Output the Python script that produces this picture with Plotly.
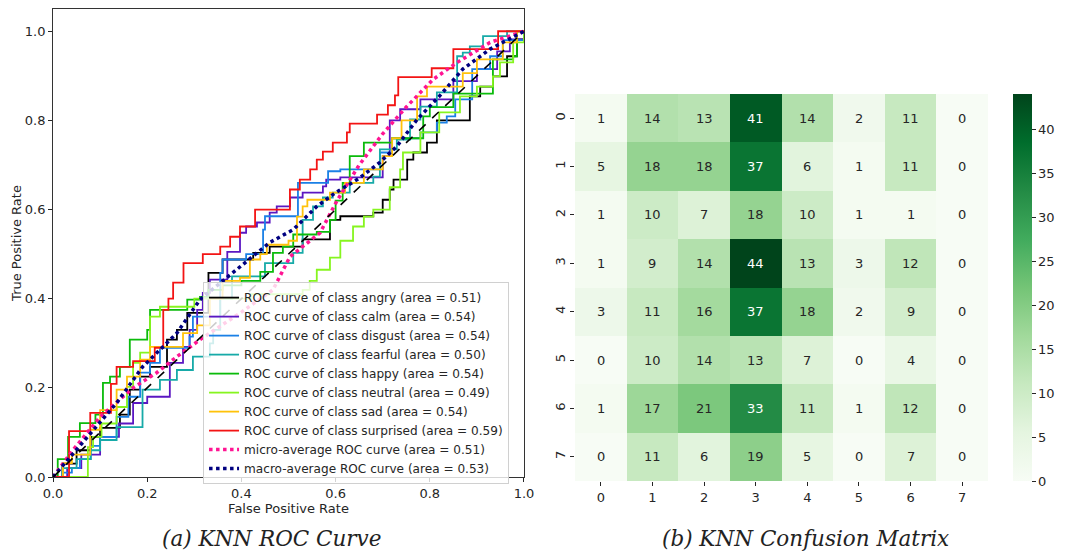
import plotly.graph_objects as go

# ---------------- ROC data ----------------
class_names = ["angry", "calm", "disgust", "fearful", "happy", "neutral", "sad", "surprised"]
class_auc = [0.51, 0.54, 0.54, 0.50, 0.54, 0.49, 0.54, 0.59]

fpr_angry = [0, 0.02, 0.05, 0.08, 0.10, 0.142, 0.163, 0.185, 0.206, 0.242, 0.263, 0.285, 0.33, 0.36, 0.425, 0.46, 0.53, 0.588, 0.61, 0.68, 0.70, 0.715, 0.723, 0.752, 0.765, 0.794, 0.815, 0.885, 0.907, 0.934, 0.964, 0.985, 1.0]
tpr_angry = [0, 0.03, 0.06, 0.09, 0.11, 0.14, 0.196, 0.225, 0.247, 0.308, 0.33, 0.368, 0.458, 0.488, 0.503, 0.517, 0.533, 0.577, 0.585, 0.593, 0.622, 0.645, 0.667, 0.712, 0.728, 0.75, 0.80, 0.854, 0.876, 0.899, 0.944, 0.982, 1.0]

fpr_calm = [0, 0.03, 0.06, 0.10, 0.14, 0.17, 0.2, 0.248, 0.276, 0.29, 0.306, 0.318, 0.333, 0.37, 0.397, 0.41, 0.433, 0.46, 0.475, 0.503, 0.53, 0.573, 0.58, 0.61, 0.70, 0.715, 0.737, 0.78, 0.85, 0.9, 0.943, 0.97, 1.0]
tpr_calm = [0, 0.02, 0.05, 0.09, 0.12, 0.166, 0.18, 0.256, 0.292, 0.33, 0.375, 0.413, 0.443, 0.505, 0.548, 0.562, 0.571, 0.593, 0.607, 0.627, 0.638, 0.652, 0.667, 0.672, 0.72, 0.80, 0.825, 0.847, 0.888, 0.915, 0.955, 0.982, 1.0]

fpr_disgust = [0, 0.02, 0.04, 0.057, 0.08, 0.1, 0.135, 0.16, 0.185, 0.206, 0.227, 0.29, 0.297, 0.355, 0.36, 0.41, 0.446, 0.45, 0.51, 0.52, 0.584, 0.61, 0.68, 0.694, 0.72, 0.78, 0.815, 0.836, 0.854, 0.89, 0.928, 0.955, 1.0]
tpr_disgust = [0, 0.01, 0.02, 0.04, 0.07, 0.09, 0.135, 0.18, 0.234, 0.256, 0.29, 0.315, 0.36, 0.458, 0.488, 0.50, 0.555, 0.585, 0.585, 0.66, 0.686, 0.69, 0.69, 0.728, 0.76, 0.773, 0.795, 0.809, 0.847, 0.915, 0.944, 0.98, 1.0]

fpr_fearful = [0, 0.02, 0.05, 0.08, 0.1, 0.135, 0.19, 0.227, 0.263, 0.297, 0.333, 0.34, 0.355, 0.38, 0.45, 0.51, 0.53, 0.552, 0.573, 0.594, 0.63, 0.68, 0.694, 0.73, 0.758, 0.78, 0.815, 0.858, 0.87, 0.885, 0.913, 0.964, 1.0]
tpr_fearful = [0, 0.02, 0.04, 0.06, 0.083, 0.112, 0.196, 0.218, 0.24, 0.27, 0.30, 0.33, 0.40, 0.45, 0.48, 0.503, 0.577, 0.607, 0.627, 0.638, 0.66, 0.674, 0.735, 0.757, 0.802, 0.831, 0.863, 0.944, 0.952, 0.966, 0.989, 1.0, 1.0]

fpr_happy = [0, 0.01, 0.032, 0.057, 0.09, 0.106, 0.121, 0.142, 0.163, 0.2, 0.206, 0.242, 0.285, 0.312, 0.33, 0.36, 0.40, 0.44, 0.467, 0.488, 0.51, 0.56, 0.588, 0.60, 0.615, 0.63, 0.66, 0.694, 0.72, 0.786, 0.80, 0.85, 0.934, 0.977, 0.985, 1.0]
tpr_happy = [0, 0.04, 0.09, 0.121, 0.14, 0.211, 0.225, 0.247, 0.308, 0.33, 0.375, 0.375, 0.398, 0.404, 0.42, 0.43, 0.44, 0.46, 0.503, 0.517, 0.544, 0.55, 0.577, 0.62, 0.66, 0.72, 0.75, 0.75, 0.76, 0.809, 0.83, 0.86, 0.937, 0.944, 1.0, 1.0]

fpr_neutral = [0, 0.074, 0.085, 0.103, 0.135, 0.157, 0.17, 0.185, 0.206, 0.227, 0.3, 0.42, 0.53, 0.545, 0.56, 0.588, 0.61, 0.637, 0.66, 0.68, 0.715, 0.737, 0.743, 0.78, 0.82, 0.864, 0.9, 0.934, 0.949, 0.977, 1.0]
tpr_neutral = [0, 0.067, 0.09, 0.12, 0.157, 0.202, 0.256, 0.279, 0.36, 0.382, 0.40, 0.41, 0.42, 0.44, 0.465, 0.492, 0.53, 0.562, 0.584, 0.60, 0.65, 0.69, 0.728, 0.773, 0.818, 0.854, 0.876, 0.899, 0.93, 0.975, 1.0]

fpr_sad = [0, 0.021, 0.04, 0.079, 0.1, 0.135, 0.157, 0.185, 0.206, 0.263, 0.276, 0.306, 0.333, 0.36, 0.397, 0.418, 0.44, 0.454, 0.50, 0.518, 0.53, 0.54, 0.588, 0.62, 0.66, 0.70, 0.72, 0.74, 0.773, 0.794, 0.85, 0.87, 0.9, 0.955, 0.985, 1.0]
tpr_sad = [0, 0.031, 0.05, 0.106, 0.15, 0.196, 0.225, 0.263, 0.292, 0.292, 0.323, 0.34, 0.40, 0.44, 0.447, 0.488, 0.50, 0.521, 0.53, 0.584, 0.607, 0.622, 0.638, 0.66, 0.69, 0.72, 0.76, 0.80, 0.854, 0.876, 0.876, 0.906, 0.937, 0.975, 1.0, 1.0]

fpr_surprised = [0, 0.034, 0.079, 0.123, 0.135, 0.17, 0.216, 0.234, 0.245, 0.255, 0.277, 0.318, 0.355, 0.376, 0.397, 0.429, 0.46, 0.503, 0.524, 0.546, 0.56, 0.573, 0.594, 0.624, 0.63, 0.688, 0.711, 0.726, 0.733, 0.804, 0.85, 0.945, 1.0]
tpr_surprised = [0, 0.103, 0.144, 0.209, 0.247, 0.26, 0.29, 0.375, 0.40, 0.436, 0.48, 0.50, 0.517, 0.539, 0.562, 0.60, 0.60, 0.645, 0.667, 0.69, 0.712, 0.73, 0.75, 0.773, 0.793, 0.813, 0.834, 0.856, 0.897, 0.917, 0.96, 1.0, 1.0]

fpr_micro = [0, 0.042, 0.1, 0.17, 0.22, 0.263, 0.312, 0.40, 0.467, 0.503, 0.567, 0.603, 0.65, 0.70, 0.75, 0.807, 0.858, 0.928, 1.0]
tpr_micro = [0, 0.06, 0.135, 0.2, 0.234, 0.27, 0.308, 0.37, 0.42, 0.494, 0.548, 0.62, 0.70, 0.77, 0.83, 0.892, 0.93, 0.975, 1.0]
auc_micro = 0.51

fpr_macro = [0, 0.04, 0.085, 0.135, 0.19, 0.233, 0.263, 0.312, 0.39, 0.46, 0.51, 0.56, 0.6, 0.65, 0.694, 0.73, 0.773, 0.82, 0.87, 0.928, 1.0]
tpr_macro = [0, 0.05, 0.106, 0.166, 0.247, 0.292, 0.323, 0.398, 0.465, 0.526, 0.555, 0.607, 0.638, 0.67, 0.706, 0.742, 0.802, 0.854, 0.915, 0.96, 1.0]
auc_macro = 0.53

chance_x = [0, 1]
chance_y = [0, 1]

# ---------------- Confusion matrix ----------------
cm_labels = [0, 1, 2, 3, 4, 5, 6, 7]
cm_values = [
    [1, 14, 13, 41, 14, 2, 11, 0],
    [5, 18, 18, 37, 6, 1, 11, 0],
    [1, 10, 7, 18, 10, 1, 1, 0],
    [1, 9, 14, 44, 13, 3, 12, 0],
    [3, 11, 16, 37, 18, 2, 9, 0],
    [0, 10, 14, 13, 7, 0, 4, 0],
    [1, 17, 21, 33, 11, 1, 12, 0],
    [0, 11, 6, 19, 5, 0, 7, 0],
]
cbar_ticks = [0, 5, 10, 15, 20, 25, 30, 35, 40]

# ---------------- Styles ----------------
class_colors = ["#000000", "#5b17c2", "#1a80e6", "#17aaa8", "#0bbb0b", "#86f51f", "#ffc20a", "#f31414"]
greens = [
    [0.0, "#f7fcf5"], [0.125, "#e5f5e0"], [0.25, "#c7e9c0"], [0.375, "#a1d99b"],
    [0.5, "#74c476"], [0.625, "#41ab5d"], [0.75, "#238b45"], [0.875, "#006d2c"], [1.0, "#00441b"],
]
TXT = "#262626"
FONT = "DejaVu Sans"

roc_fpr = [fpr_angry, fpr_calm, fpr_disgust, fpr_fearful, fpr_happy, fpr_neutral, fpr_sad, fpr_surprised]
roc_tpr = [tpr_angry, tpr_calm, tpr_disgust, tpr_fearful, tpr_happy, tpr_neutral, tpr_sad, tpr_surprised]

fig = go.Figure()

for name, auc, fx, ty, col in zip(class_names, class_auc, roc_fpr, roc_tpr, class_colors):
    fig.add_trace(go.Scatter(
        x=fx, y=ty, mode="lines", line=dict(color=col, width=1.8, shape="hv"),
        name=f"ROC curve of class {name} (area = {auc:.2f})", xaxis="x", yaxis="y"))

fig.add_trace(go.Scatter(
    x=fpr_micro, y=tpr_micro, mode="lines", line=dict(color="#ff1493", width=3.5, dash="dot"),
    name=f"micro-average ROC curve (area = {auc_micro:.2f})", xaxis="x", yaxis="y"))
fig.add_trace(go.Scatter(
    x=fpr_macro, y=tpr_macro, mode="lines", line=dict(color="#000080", width=3.5, dash="dot"),
    name=f"macro-average ROC curve (area = {auc_macro:.2f})", xaxis="x", yaxis="y"))
fig.add_trace(go.Scatter(
    x=chance_x, y=chance_y, mode="lines", line=dict(color="black", width=1.6, dash="dash"),
    showlegend=False, xaxis="x", yaxis="y"))

zmax = max(max(r) for r in cm_values)
fig.add_trace(go.Heatmap(
    z=cm_values, x=cm_labels, y=cm_labels, colorscale=greens, zmin=0, zmax=zmax,
    xaxis="x2", yaxis="y2", showscale=True, xgap=0, ygap=0,
    colorbar=dict(x=0.9494, xanchor="left", y=0.127, yanchor="bottom", len=0.7024, lenmode="fraction",
                  thickness=19, outlinewidth=0, xpad=0, ypad=0, ticks="outside", ticklen=4, tickcolor=TXT,
                  tickvals=cbar_ticks, tickfont=dict(family=FONT, size=13, color=TXT)),
))

annotations = []
for i, row in enumerate(cm_values):
    for j, v in enumerate(row):
        annotations.append(dict(
            x=cm_labels[j], y=cm_labels[i], xref="x2", yref="y2", text=str(v), showarrow=False,
            font=dict(family=FONT, size=13, color="white" if v > 0.6 * zmax else TXT)))

annotations.append(dict(x=0.255, y=0.022, xref="paper", yref="paper", xanchor="center", yanchor="middle",
                        showarrow=False, text="<i>(a) KNN ROC Curve</i>",
                        font=dict(family="DejaVu Serif", size=21.5, color="#222")))
annotations.append(dict(x=0.7545, y=0.022, xref="paper", yref="paper", xanchor="center", yanchor="middle",
                        showarrow=False, text="<i>(b) KNN Confusion Matrix</i>",
                        font=dict(family="DejaVu Serif", size=21.5, color="#222")))

axis_common = dict(showgrid=False, zeroline=False, ticks="outside", ticklen=4, tickcolor=TXT,
                   automargin=False, tickfont=dict(family=FONT, size=13, color=TXT))

fig.update_layout(
    width=1067, height=551, margin=dict(l=0, r=0, t=0, b=0, autoexpand=False),
    paper_bgcolor="white", plot_bgcolor="white",
    font=dict(family=FONT, color=TXT),
    xaxis=dict(domain=[0.0497, 0.4911], range=[0, 1], anchor="y",
               tickvals=[0, 0.2, 0.4, 0.6, 0.8, 1.0], tickformat=".1f",
               showline=True, mirror=True, linecolor="#333", linewidth=1,
               title=dict(text="False Positive Rate", font=dict(size=13, color=TXT), standoff=3),
               **axis_common),
    yaxis=dict(domain=[0.1343, 0.9837], range=[0, 1.05], anchor="x",
               tickvals=[0, 0.2, 0.4, 0.6, 0.8, 1.0], tickformat=".1f",
               showline=True, mirror=True, linecolor="#333", linewidth=1,
               title=dict(text="True Positive Rate", font=dict(size=13, color=TXT), standoff=0),
               **axis_common),
    xaxis2=dict(domain=[0.5389, 0.9260], range=[-0.5, 7.5], anchor="y2", tickvals=cm_labels,
                showline=False, **axis_common),
    yaxis2=dict(domain=[0.127, 0.8294], range=[7.5, -0.5], anchor="x2", tickvals=cm_labels,
                tickangle=-90, showline=False, **axis_common),
    legend=dict(x=0.1903, y=0.488, xanchor="left", yanchor="top",
                bgcolor="rgba(255,255,255,0.8)", bordercolor="#d0d0d0", borderwidth=1,
                font=dict(family=FONT, size=12.1, color=TXT), tracegroupgap=0),
    annotations=annotations,
)

fig.write_html("out.html")
